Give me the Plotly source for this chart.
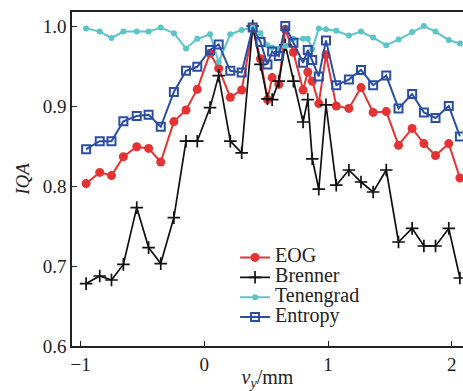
import plotly.graph_objects as go

x_pos = [-0.955, -0.845, -0.75, -0.654, -0.546, -0.45, -0.352, -0.246, -0.148, -0.057,
         0.046, 0.116, 0.21, 0.302, 0.391, 0.454, 0.51, 0.548, 0.602, 0.654,
         0.72, 0.798, 0.836, 0.872, 0.925, 0.983, 1.066, 1.168, 1.266, 1.364,
         1.47, 1.569, 1.679, 1.774, 1.868, 1.975, 2.065]

eog = [0.803, 0.817, 0.813, 0.8365, 0.849, 0.847, 0.830, 0.8805, 0.895, 0.921,
       0.966, 0.947, 0.911, 0.920, 0.997, 0.959, 0.908, 0.9355, 0.927, 0.996,
       0.967, 0.920, 0.9425, 0.931, 0.903, 0.964, 0.900, 0.897, 0.923, 0.892,
       0.893, 0.851, 0.872, 0.853, 0.838, 0.853, 0.810]

brenner = [0.678, 0.6875, 0.6825, 0.702, 0.773, 0.723, 0.703, 0.7605, 0.856, 0.856,
           0.898, 0.938, 0.856, 0.8415, 1.0, 0.952, 0.909, 0.908, 0.931, 0.9765,
           0.931, 0.880, 0.908, 0.834, 0.796, 0.9015, 0.801, 0.820, 0.805, 0.7925,
           0.820, 0.730, 0.747, 0.725, 0.725, 0.747, 0.685]

tenengrad = [0.997, 0.993, 0.985, 0.993, 0.993, 0.993, 0.998, 0.991, 0.972, 0.984,
             0.9896, 0.955, 0.9896, 0.995, 0.998, 0.991, 0.976, 0.973, 0.972, 0.975,
             0.984, 0.984, 0.984, 0.971, 0.997, 0.996, 0.994, 0.988, 0.993, 0.9855,
             0.976, 0.983, 0.9925, 1.0, 0.993, 0.9825, 0.978]

entropy = [0.846, 0.856, 0.856, 0.881, 0.8875, 0.889, 0.874, 0.9175, 0.944, 0.949,
           0.970, 0.977, 0.944, 0.942, 0.998, 0.980, 0.952, 0.968, 0.9625, 1.0,
           0.979, 0.954, 0.970, 0.9575, 0.937, 0.982, 0.926, 0.933, 0.945, 0.926,
           0.938, 0.897, 0.915, 0.892, 0.885, 0.900, 0.862]

series_names = ["EOG", "Brenner", "Tenengrad", "Entropy"]

y_ticks = [0.6, 0.7, 0.8, 0.9, 1.0]
y_tick_text = ["0.6", "0.7", "0.8", "0.9", "1.0"]
x_ticks = [-1, 0, 1, 2]
x_tick_text = ["\u22121", "0", "1", "2"]

FONT = "Liberation Serif"


def leg(name):
    return '<span style="font-size:20px">' + name + "</span>"


fig = go.Figure()
fig.add_trace(go.Scatter(x=x_pos, y=eog, name=leg(series_names[0]), mode="lines+markers",
                         line=dict(color="#e53232", width=2),
                         marker=dict(symbol="circle", size=9, color="#e53232")))
fig.add_trace(go.Scatter(x=x_pos, y=brenner, name=leg(series_names[1]), mode="lines+markers",
                         line=dict(color="#111111", width=1.7),
                         marker=dict(symbol="cross-thin", size=9,
                                     line=dict(color="#111111", width=1.7))))
fig.add_trace(go.Scatter(x=x_pos, y=tenengrad, name=leg(series_names[2]), mode="lines+markers",
                         line=dict(color="#5cc3c8", width=2),
                         marker=dict(symbol="circle", size=6, color="#5cc3c8")))
fig.add_trace(go.Scatter(x=x_pos, y=entropy, name=leg(series_names[3]), mode="lines+markers",
                         line=dict(color="#2b4ea5", width=2),
                         marker=dict(symbol="square-open", size=8,
                                     line=dict(color="#2b4ea5", width=2))))

fig.update_layout(
    width=463, height=391,
    margin=dict(l=72, r=0, t=12, b=45),
    paper_bgcolor="white", plot_bgcolor="white",
    font=dict(family=FONT, size=19, color="#222222"),
    showlegend=True,
    legend=dict(x=0.417, y=0.31, xanchor="left", yanchor="top",
                bgcolor="rgba(0,0,0,0)", font=dict(family=FONT, size=13, color="#222222"),
                tracegroupgap=0, itemwidth=30),
    xaxis=dict(range=[-1.069, 2.09], tickvals=x_ticks, ticktext=x_tick_text,
               ticks="inside", ticklen=5, tickcolor="#222", showgrid=False,
               zeroline=False, showline=True, linecolor="#222", linewidth=1.5,
               mirror=True, automargin=False,
               title=dict(text="<i>v</i><sub><i>y</i></sub>/mm", standoff=22,
                          font=dict(family=FONT, size=20))),
    yaxis=dict(range=[0.6, 1.0175], tickvals=y_ticks, ticktext=y_tick_text,
               ticks="inside", ticklen=5, tickcolor="#222", showgrid=False,
               zeroline=False, showline=True, linecolor="#222", linewidth=1.5,
               mirror=True, automargin=False,
               title=dict(text="<i>IQA</i>", standoff=8,
                          font=dict(family=FONT, size=19))),
)

fig.write_html("out.html")
